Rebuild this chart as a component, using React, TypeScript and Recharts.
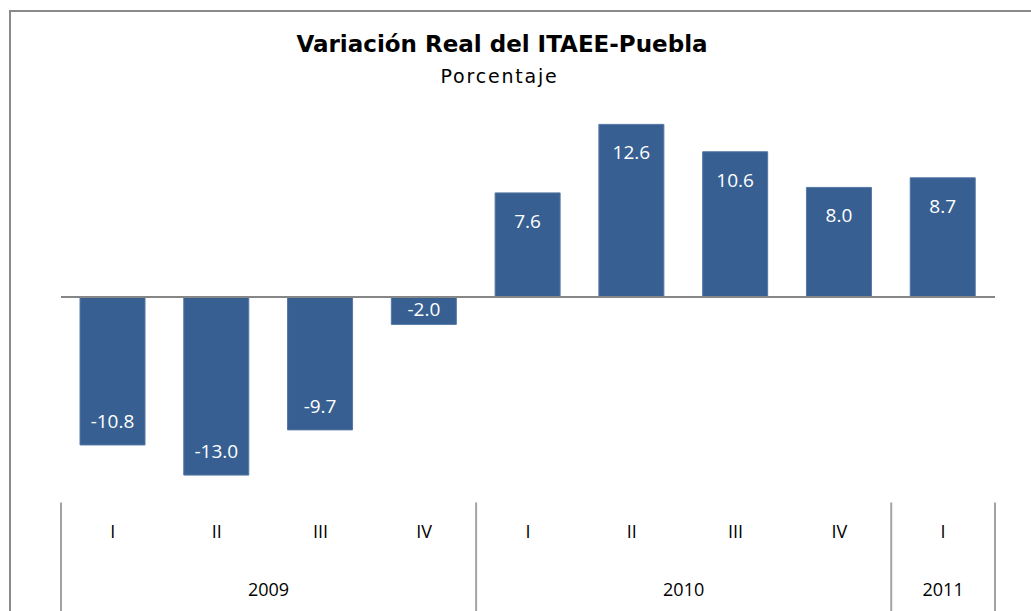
import { Bar, BarChart, LabelList, ReferenceLine, XAxis, YAxis } from 'recharts'

const quarters = ['I', 'II', 'III', 'IV', 'I', 'II', 'III', 'IV', 'I']
const years = ['2009', '2009', '2009', '2009', '2010', '2010', '2010', '2010', '2011']
const values = [-10.8, -13.0, -9.7, -2.0, 7.6, 12.6, 10.6, 8.0, 8.7]

const data = quarters.map((q, i) => ({ q, year: years[i], value: values[i] }))

const W = 1031
const H = 611
const MARGIN = { top: 91.5, right: 36, bottom: 0, left: 61 }
const AXIS_H = 108.5
const STEP = (W - MARGIN.left - MARGIN.right) / data.length

const BAR = '#375f91'
const RULE = '#868686'
const SEP = '#a3a3a3'
const FONT = '"Open Sans", "Noto Sans", sans-serif'

function groupOf(i: number) {
  let start = i
  while (start > 0 && years[start - 1] === years[i]) start--
  let end = i
  while (end < years.length - 1 && years[end + 1] === years[i]) end++
  return { start, end }
}

function AxisTick(props: any) {
  const { x, y, payload } = props
  const i: number = payload?.index ?? props.index
  const { start, end } = groupOf(i)
  const first = i === start
  const last = i === years.length - 1
  return (
    <g>
      <text x={x} y={y + 28.5} textAnchor="middle" dominantBaseline="central" fill="#000" fontSize={18} fontFamily={FONT}>
        {quarters[i]}
      </text>
      {first && (
        <>
          <line x1={x - STEP / 2} x2={x - STEP / 2} y1={y} y2={y + AXIS_H + 2} stroke={SEP} strokeWidth={2} />
          <text
            x={x + ((end - start) / 2) * STEP}
            y={y + 86.5}
            textAnchor="middle"
            dominantBaseline="central"
            fill="#000"
            fontSize={18}
            fontFamily={FONT}
          >
            {years[i]}
          </text>
        </>
      )}
      {last && <line x1={x + STEP / 2} x2={x + STEP / 2} y1={y} y2={y + AXIS_H + 2} stroke={SEP} strokeWidth={2} />}
    </g>
  )
}

function BarLabel(props: any) {
  const { x, y, width, height, value } = props
  const top = Math.min(y, y + height)
  const bottom = Math.max(y, y + height)
  const cy = value >= 0 ? top + 28 : Math.max(bottom - 24, top + 12)
  return (
    <text x={x + width / 2} y={cy} textAnchor="middle" dominantBaseline="central" fill="#fff" fontSize={19} fontFamily={FONT}>
      {Number(value).toFixed(1)}
    </text>
  )
}

export default function App() {
  return (
    <div style={{ position: 'absolute', left: 0, top: 0, width: W, height: H, overflow: 'hidden', background: '#fff' }}>
      <div
        style={{
          position: 'absolute',
          left: 9,
          top: 10,
          width: W + 100,
          height: H + 100,
          borderLeft: '2px solid #8a8a8a',
          borderTop: '2px solid #8a8a8a',
        }}
      />
      <div
        style={{
          position: 'absolute',
          left: 0,
          width: W - 27,
          top: 30,
          textAlign: 'center',
          fontFamily: '"DejaVu Sans", sans-serif',
          fontWeight: 700,
          fontSize: 23,
          lineHeight: '28px',
        }}
      >
        Variación Real del ITAEE-Puebla
      </div>
      <div
        style={{
          position: 'absolute',
          left: 0,
          width: W - 32,
          top: 64,
          textAlign: 'center',
          fontFamily: '"DejaVu Sans", sans-serif',
          fontSize: 19,
          letterSpacing: 1.8,
          lineHeight: '24px',
        }}
      >
        Porcentaje
      </div>
      <div style={{ position: 'absolute', left: 0, top: 0 }}>
        <BarChart width={W} height={H} data={data} margin={MARGIN}>
          <YAxis hide domain={[-15, 15]} />
          <XAxis
            dataKey="q"
            interval={0}
            height={AXIS_H}
            axisLine={false}
            tickLine={false}
            tickSize={0}
            tickMargin={0}
            tick={<AxisTick />}
          />
          <Bar dataKey="value" fill={BAR} stroke="#5477a6" strokeWidth={1} barSize={65} isAnimationActive={false}>
            <LabelList dataKey="value" content={<BarLabel />} />
          </Bar>
          <ReferenceLine y={0} stroke={RULE} strokeWidth={2} ifOverflow="extendDomain" />
        </BarChart>
      </div>
    </div>
  )
}
